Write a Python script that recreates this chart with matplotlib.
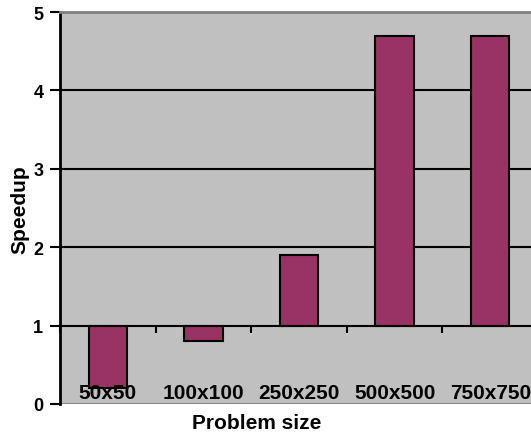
import matplotlib
matplotlib.use('Agg')
import matplotlib.pyplot as plt
import numpy as np

# data
sizes = ['50x50', '100x100', '250x250', '500x500', '750x750']
speedup = [0.2, 0.8, 1.9, 4.7, 4.7]
base = 1.0

plt.rcParams['font.family'] = ['Liberation Sans', 'DejaVu Sans']
plt.rcParams['font.weight'] = 'bold'

fig = plt.figure(figsize=(5.31, 4.35), dpi=100)
ax = fig.add_axes([60/531, 30/435, 478/531, 392/435])
ax.set_facecolor('#C0C0C0')

x = np.arange(len(sizes))
heights = [v - base for v in speedup]
ax.bar(x, heights, bottom=base, width=0.4, color='#993366',
       edgecolor='black', linewidth=1.5, zorder=3)

ax.set_xlim(-0.5, len(sizes) - 0.5)
ax.set_ylim(0, 5)

# grid lines
ax.set_yticks([0, 1, 2, 3, 4, 5])
for yv in [2, 3, 4]:
    ax.axhline(yv, color='black', linewidth=1.5, zorder=1)
ax.axhline(0, color='#808080', linewidth=2, zorder=2)

# spines: category axis crosses at 1
ax.spines['bottom'].set_position(('data', base))
ax.spines['bottom'].set_linewidth(1.5)
ax.spines['bottom'].set_zorder(4)
ax.spines['left'].set_linewidth(2)
ax.spines['top'].set_color('#808080')
ax.spines['top'].set_linewidth(2)
ax.spines['right'].set_visible(False)

ax.set_xticks(x)
ax.set_xticks(np.arange(len(sizes) + 1) - 0.5, minor=True)
ax.tick_params(axis='x', which='major', length=0, labelbottom=False)
ax.tick_params(axis='x', which='minor', direction='out', length=5, width=1.5)
ax.tick_params(axis='y', direction='out', length=7, width=1.5, pad=5,
               labelsize=13)
for lab in ax.get_yticklabels():
    lab.set_fontweight('bold')

for i, s in enumerate(sizes):
    ax.text(i, 0.02, s, ha='center', va='bottom', fontsize=15,
            fontweight='bold', zorder=5)

fig.text(257/531, 0.027, 'Problem size', ha='center', va='center',
         fontsize=15, fontweight='bold')
fig.text(20/531, 1 - 210/435, 'Speedup', ha='center', va='center',
         rotation=90, fontsize=15, fontweight='bold')

fig.savefig('out.png', dpi=100)
